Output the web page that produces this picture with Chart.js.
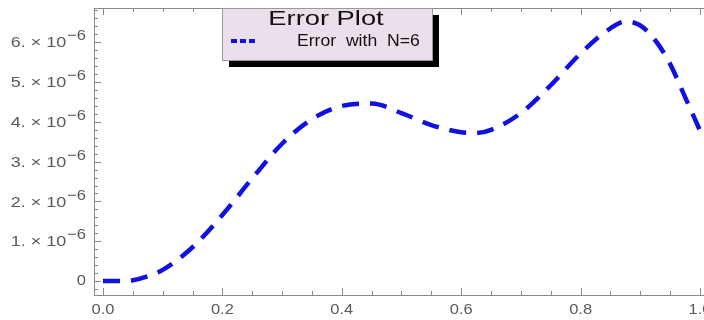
<!DOCTYPE html>
<html>
<head>
<meta charset="utf-8">
<script src="https://cdn.jsdelivr.net/npm/chart.js@4"></script>
<style>
  html, body { margin: 0; padding: 0; background: #fff; overflow: hidden; }
  #wrap { width: 716px; height: 320px; }
</style>
</head>
<body>
<div id="wrap"><canvas id="errChart" width="716" height="320"></canvas></div>
<script>
// datos (y en unidades de 1e-6)
const xValues = [0, 0.025, 0.05, 0.075, 0.1, 0.15, 0.2, 0.25, 0.3, 0.35, 0.4, 0.45, 0.5, 0.55, 0.6, 0.625, 0.65, 0.7, 0.75, 0.8, 0.85, 0.875, 0.9, 0.925, 0.95, 0.975, 1.0];
const errValues = [0, 0, 0.02, 0.12, 0.28, 0.85, 1.66, 2.58, 3.45, 4.07, 4.40, 4.46, 4.22, 3.92, 3.74, 3.72, 3.80, 4.22, 4.92, 5.72, 6.35, 6.52, 6.42, 6.05, 5.45, 4.62, 3.78];
const xTicks = [0, 0.2, 0.4, 0.6, 0.8, 1.0];
const xTickLabels = ["0.0", "0.2", "0.4", "0.6", "0.8", "1.0"];
const yTicks = [0, 1, 2, 3, 4, 5, 6];
const yTickLabels = ["0", "1.", "2.", "3.", "4.", "5.", "6."];
const plotTitle = "Error Plot";
const seriesLabel = "Error  with  N=6";

const points = xValues.map((x, i) => ({ x: x, y: errValues[i] * 1e-6 }));
const FONT = "'Liberation Sans', Arial, sans-serif";

// texto un poco ensanchado, como en la figura original
function wideText(ctx, text, x, y, sx) {
    ctx.save();
    ctx.translate(x, y);
    ctx.scale(sx, 1);
    ctx.fillText(text, 0, 0);
    ctx.restore();
}

// marco, ticks internos, etiquetas y leyenda estilo Mathematica
const framePlugin = {
    id: "framePlugin",
    afterDraw(chart) {
        const ctx = chart.ctx;
        const a = chart.chartArea;
        const xs = chart.scales.x;
        const ys = chart.scales.y;
        ctx.save();
        ctx.strokeStyle = "#8a8a8a";
        ctx.lineWidth = 1;
        ctx.strokeRect(a.left + 0.5, a.top + 0.5, a.right - a.left, a.bottom - a.top);

        // ticks en x (abajo y arriba)
        for (let i = 0; i <= 20; i++) {
            const v = i * 0.05;
            const px = Math.round(xs.getPixelForValue(v)) + 0.5;
            const len = (i % 4 === 0) ? 7 : 4;
            ctx.beginPath();
            ctx.moveTo(px, a.bottom);
            ctx.lineTo(px, a.bottom - len);
            ctx.moveTo(px, a.top);
            ctx.lineTo(px, a.top + len);
            ctx.stroke();
        }
        // ticks en y
        for (let i = -1; i <= 34; i++) {
            const v = i * 0.2e-6;
            const py = Math.round(ys.getPixelForValue(v)) + 0.5;
            if (py < a.top || py > a.bottom) continue;
            const len = (i % 5 === 0) ? 7 : 4;
            ctx.beginPath();
            ctx.moveTo(a.left, py);
            ctx.lineTo(a.left + len, py);
            ctx.stroke();
        }

        // etiquetas
        ctx.fillStyle = "#5a5a5a";
        ctx.font = "15px " + FONT;
        ctx.textAlign = "center";
        ctx.textBaseline = "middle";
        xTicks.forEach((v, i) => {
            wideText(ctx, xTickLabels[i], xs.getPixelForValue(v), a.bottom + 15, 1.1);
        });
        ctx.textAlign = "right";
        yTicks.forEach((v, i) => {
            const py = ys.getPixelForValue(v * 1e-6);
            ctx.font = "15px " + FONT;
            if (v === 0) {
                wideText(ctx, "0", 86, py, 1.1);
                return;
            }
            wideText(ctx, "\u22126", 86, py - 6, 1.1);
            const expW = ctx.measureText("\u22126").width * 1.1;
            wideText(ctx, yTickLabels[i] + " \u00d7 10", 86 - expW - 1, py + 1, 1.2);
        });

        // leyenda
        const lx = 222, ly = 8, lw = 210, lh = 52;
        ctx.fillStyle = "#000";
        ctx.fillRect(lx + 7, ly + 7, lw, lh);
        ctx.fillStyle = "#ecdfec";
        ctx.fillRect(lx, ly, lw, lh);
        ctx.strokeStyle = "#9a9a9a";
        ctx.strokeRect(lx + 0.5, ly + 0.5, lw, lh);
        ctx.fillStyle = "#111";
        ctx.textAlign = "center";
        ctx.font = "21px " + FONT;
        wideText(ctx, plotTitle, 326, 19, 1.3);
        const ds = chart.data.datasets[0];
        ctx.strokeStyle = ds.borderColor;
        ctx.lineWidth = 4;
        ctx.setLineDash([6, 3]);
        ctx.beginPath();
        ctx.moveTo(231, 41);
        ctx.lineTo(257, 41);
        ctx.stroke();
        ctx.setLineDash([]);
        ctx.fillStyle = "#111";
        ctx.font = "16px " + FONT;
        ctx.textAlign = "left";
        wideText(ctx, ds.label, 297, 42, 1.1);
        ctx.restore();
    }
};

new Chart(document.getElementById("errChart"), {
    type: "line",
    data: {
        datasets: [{
            label: seriesLabel,
            data: points,
            borderColor: "#1010e0",
            borderWidth: 4.5,
            borderDash: [17, 11],
            pointRadius: 0,
            fill: false,
            cubicInterpolationMode: "monotone"
        }]
    },
    options: {
        responsive: false,
        animation: false,
        layout: { padding: { left: 94, top: 8, right: 10, bottom: 25 } },
        plugins: { legend: { display: false }, tooltip: { enabled: false } },
        scales: {
            x: { type: "linear", min: -0.015, max: 1.01, display: false },
            y: { type: "linear", min: -0.35e-6, max: 6.86e-6, display: false }
        }
    },
    plugins: [framePlugin]
});
</script>
</body>
</html>
